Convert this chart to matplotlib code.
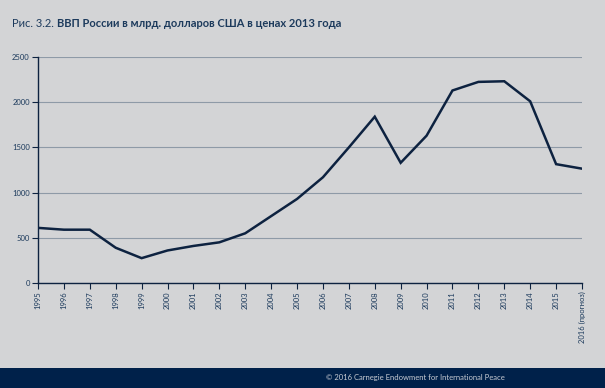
import matplotlib.pyplot as plt

years = ["1995", "1996", "1997", "1998", "1999", "2000", "2001", "2002", "2003", "2004", "2005",
         "2006", "2007", "2008", "2009", "2010", "2011", "2012", "2013", "2014", "2015", "2016 (прогноз)"]
gdp = [610, 590, 590, 390, 275, 360, 410, 450, 550, 740, 930,
       1170, 1500, 1840, 1330, 1630, 2130, 2225, 2232, 2010, 1315, 1265]
yticks = [0, 500, 1000, 1500, 2000, 2500]

plt.rcParams['font.family'] = ['Lato', 'DejaVu Sans']

bg = "#d3d4d6"
navy = "#0d2240"
txt = "#1c3a5c"

fig = plt.figure(figsize=(6.05, 3.88), dpi=100, facecolor=bg)
ax = fig.add_axes([0.0628, 0.2706, 0.8992, 0.5824], facecolor=bg)

x = list(range(len(years)))
ax.plot(x, gdp, color=navy, lw=1.8, solid_joinstyle="miter", zorder=3)

ax.set_xlim(0, len(years) - 1)
ax.set_ylim(0, 2500)
ax.set_yticks(yticks)
ax.set_xticks(x)
ax.set_xticklabels(years, rotation=90, fontsize=5.5, color=txt)
ax.tick_params(axis="y", labelsize=5.5, labelcolor=txt, color=navy, length=4, width=0.8, pad=2)
ax.tick_params(axis="x", color=navy, length=4, width=0.8, pad=2)
ax.grid(axis="y", color="#8e9aa7", lw=0.8)
ax.set_axisbelow(True)
for s in ["top", "right"]:
    ax.spines[s].set_visible(False)
for s in ["left", "bottom"]:
    ax.spines[s].set_color(navy)
    ax.spines[s].set_linewidth(1.0)

# title: plain prefix + bold rest, placed right after the prefix
t1 = fig.text(0.02, 0.94, "Рис. 3.2.", fontsize=8, color=txt, va="center")
ax.annotate("ВВП России в млрд. долларов США в ценах 2013 года", xy=(1, 0), xycoords=t1,
            xytext=(2.5, 0), textcoords="offset points", va="bottom",
            fontsize=8, color=txt, fontweight="bold", annotation_clip=False)

fig.patches.append(plt.Rectangle((0, 0), 1, 0.052, transform=fig.transFigure,
                                 facecolor="#00214a", zorder=0))
fig.text(0.835, 0.026, "© 2016 Carnegie Endowment for International Peace",
         fontsize=5.5, color="#c8ccd4", ha="right", va="center")

fig.savefig("out.png", dpi=100, facecolor=bg)
